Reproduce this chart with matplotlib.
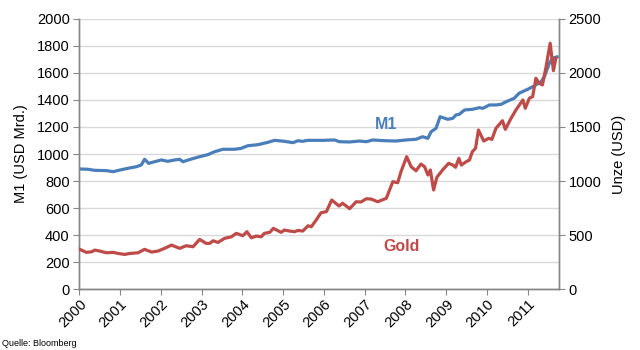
import matplotlib
matplotlib.use("Agg")
import matplotlib.pyplot as plt

plt.rcParams['font.family'] = ['Liberation Sans', 'DejaVu Sans']

# M1 money supply (USD bn, left axis), time in decimal years
m1_t = [2000.01, 2000.21, 2000.38, 2000.66, 2000.83, 2000.99, 2001.19, 2001.40, 2001.52,
        2001.60, 2001.70, 2001.85, 2002.01, 2002.17, 2002.34, 2002.46, 2002.54, 2002.75,
        2002.95, 2003.15, 2003.32, 2003.52, 2003.81, 2003.97, 2004.13, 2004.38, 2004.62,
        2004.79, 2005.03, 2005.24, 2005.36, 2005.48, 2005.60, 2005.97, 2006.26, 2006.38,
        2006.63, 2006.87, 2007.04, 2007.20, 2007.44, 2007.77, 2008.02, 2008.26, 2008.42,
        2008.55, 2008.63, 2008.75, 2008.85, 2009.04, 2009.16, 2009.24, 2009.32, 2009.45,
        2009.65, 2009.81, 2009.90, 2010.06, 2010.22, 2010.35, 2010.47, 2010.67, 2010.79,
        2011.00, 2011.16, 2011.33, 2011.41, 2011.53, 2011.61, 2011.72]
m1_v = [889, 887, 879, 877, 869, 881, 894, 906, 919,
        961, 931, 943, 956, 946, 956, 961, 943, 963,
        980, 995, 1017, 1035, 1035, 1042, 1061, 1069, 1086,
        1101, 1094, 1084, 1098, 1094, 1101, 1101, 1104, 1091,
        1089, 1096, 1091, 1104, 1099, 1096, 1104, 1109, 1128,
        1116, 1165, 1190, 1276, 1257, 1264, 1289, 1294, 1326,
        1331, 1343, 1338, 1363, 1363, 1368, 1387, 1413, 1450,
        1479, 1504, 1536, 1573, 1672, 1709, 1719]

# Gold price per ounce (USD, right axis), time in decimal years
gold_t = [2000.01, 2000.17, 2000.30, 2000.38, 2000.50, 2000.66, 2000.83, 2000.95, 2001.11,
          2001.24, 2001.44, 2001.60, 2001.77, 2001.93, 2002.09, 2002.26, 2002.46, 2002.62,
          2002.79, 2002.95, 2003.11, 2003.20, 2003.28, 2003.40, 2003.56, 2003.73, 2003.85,
          2004.01, 2004.11, 2004.22, 2004.34, 2004.46, 2004.54, 2004.67, 2004.76, 2004.95,
          2005.03, 2005.16, 2005.28, 2005.36, 2005.48, 2005.61, 2005.69, 2005.81, 2005.93,
          2006.06, 2006.19, 2006.37, 2006.46, 2006.63, 2006.79, 2006.91, 2007.04, 2007.16,
          2007.32, 2007.53, 2007.69, 2007.81, 2007.89, 2008.03, 2008.14, 2008.26, 2008.38,
          2008.47, 2008.55, 2008.61, 2008.69, 2008.77, 2008.91, 2009.06, 2009.16, 2009.23,
          2009.31, 2009.37, 2009.49, 2009.57, 2009.64, 2009.72, 2009.79, 2009.92, 2010.04,
          2010.12, 2010.22, 2010.38, 2010.45, 2010.59, 2010.71, 2010.88, 2010.94, 2011.04,
          2011.12, 2011.20, 2011.28, 2011.36, 2011.45, 2011.55, 2011.63, 2011.69]
gold_v = [368, 340, 345, 361, 352, 336, 340, 330, 321,
          330, 336, 368, 343, 352, 377, 407, 377, 401,
          392, 460, 423, 423, 447, 432, 469, 484, 516,
          494, 531, 475, 491, 484, 516, 525, 562, 525,
          546, 537, 531, 543, 537, 586, 577, 639, 707,
          716, 824, 769, 794, 744, 808, 806, 836, 833,
          808, 840, 994, 984, 1086, 1225, 1132, 1095, 1157,
          1132, 1056, 1102, 917, 1034, 1102, 1164, 1148, 1127,
          1210, 1148, 1179, 1194, 1271, 1303, 1472, 1370, 1395,
          1385, 1488, 1558, 1478, 1580, 1657, 1750, 1673, 1766,
          1781, 1951, 1905, 1889, 2058, 2275, 2021, 2136]

years = list(range(2000, 2012))
left_ticks = list(range(0, 2001, 200))
right_ticks = list(range(0, 2501, 500))

blue = '#4A7EBB'
red = '#BE4B48'
gray = '#868686'

fig = plt.figure(figsize=(6.4, 3.5), dpi=100)
ax = fig.add_axes([0.124, 0.174, 0.749, 0.772])
ax2 = ax.twinx()

ax.plot(m1_t, m1_v, color=blue, lw=2.3, solid_joinstyle='round', zorder=3)
ax2.plot(gold_t, gold_v, color=red, lw=2.3, solid_joinstyle='round', zorder=3)

ax.set_xlim(2000, 2011.76)
ax.set_ylim(0, 2000)
ax2.set_ylim(0, 2500)

ax.set_yticks(left_ticks)
ax2.set_yticks(right_ticks)
ax.set_xticks(years)
ax.set_xticklabels([str(y) for y in years], rotation=45, ha='right', va='top',
                   rotation_mode='anchor', fontsize=10.5)
ax.tick_params(axis='x', length=4, color=gray, pad=2)
ax.tick_params(axis='y', length=4, color=gray, labelsize=10.5, pad=3)
ax2.tick_params(axis='y', length=4, color=gray, labelsize=10.5, pad=3)

ax.grid(axis='y', color='#D9D9D9', lw=1)
ax.set_axisbelow(True)

for a in (ax, ax2):
    a.spines['top'].set_visible(False)
    for s in ('left', 'right', 'bottom'):
        a.spines[s].set_color(gray)
        a.spines[s].set_linewidth(1)

ax.set_ylabel('M1 (USD Mrd.)', fontsize=10.5, labelpad=6)
ax2.set_ylabel('Unze (USD)', fontsize=10.5, labelpad=8)

ax.text(2007.53, 1215, 'M1', color=blue, fontsize=11.5, fontweight='bold',
        ha='center', va='center')
ax.text(2007.9, 313, 'Gold', color=red, fontsize=11.5, fontweight='bold',
        ha='center', va='center')

fig.text(0.003, 0.02, 'Quelle: Bloomberg', fontsize=6.5, ha='left', va='center')

fig.savefig('out.png', dpi=100)
